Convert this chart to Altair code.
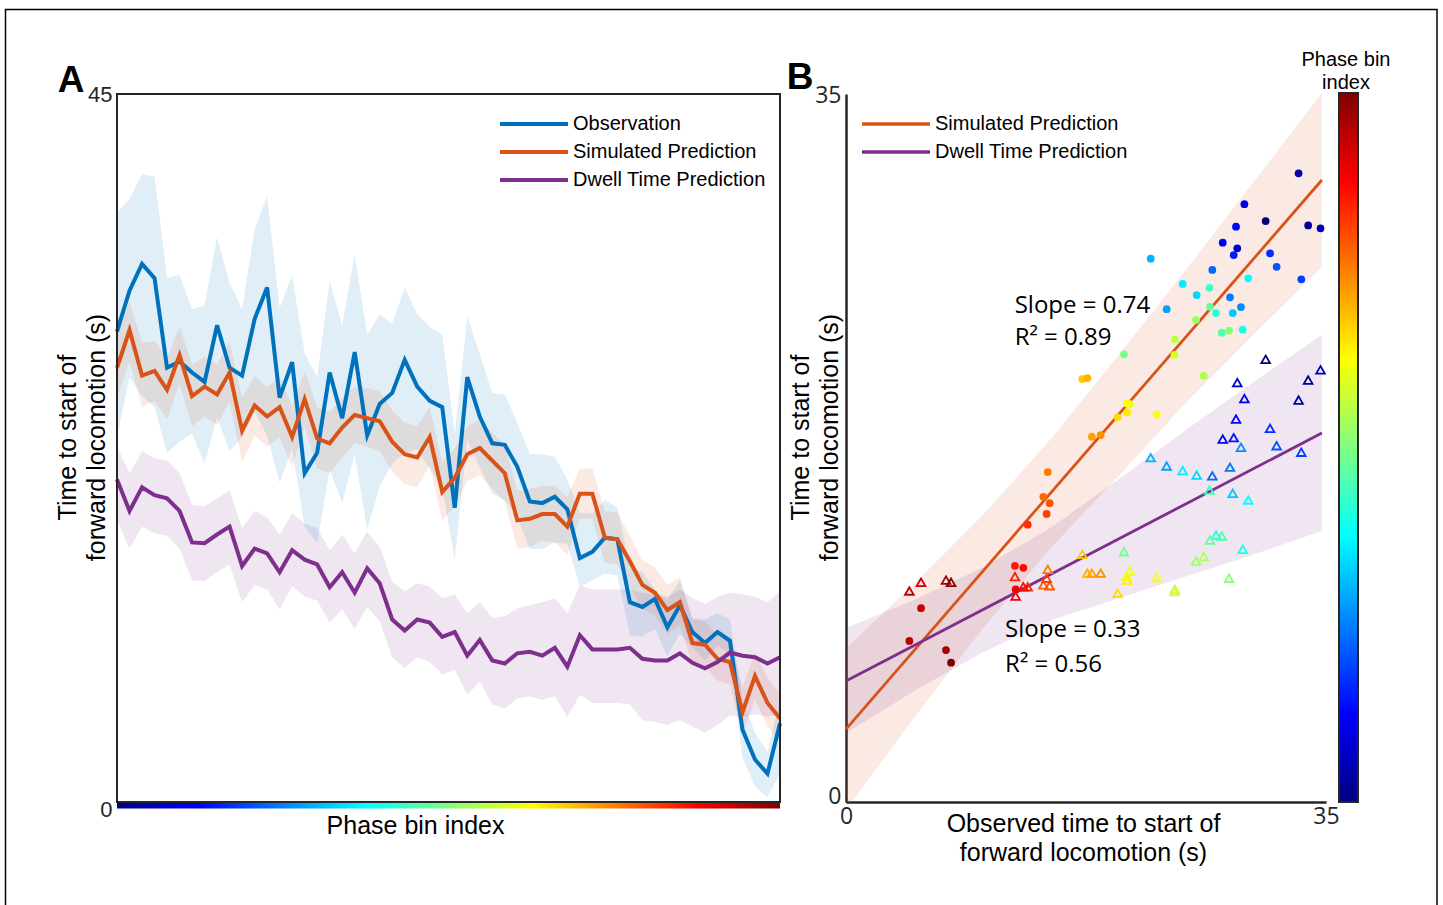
import altair as alt
import pandas as pd

# ---------------- Panel A data (phase bins 1..54) ----------------
phase_bins = list(range(1, 55))
observation = [29.9, 32.5, 34.2, 33.3, 27.6, 28.0, 27.3, 26.7, 30.3, 27.6,
               27.1, 30.7, 32.7, 25.7, 27.95, 20.9, 22.2, 27.3, 24.4, 28.6,
               23.3, 25.3, 26.0, 28.1, 26.4, 25.5, 25.1, 18.7, 27.0, 24.5,
               22.8, 22.7, 21.3, 19.1, 19.0, 19.4, 18.6, 15.5, 15.9, 16.8,
               16.7, 12.7, 12.4, 12.9, 11.1, 12.5, 10.8, 10.1, 10.8, 10.25,
               4.6, 2.7, 1.8, 5.0]
observation_lo = [23.2, 27.0, 25.8, 25.1, 22.2, 22.9, 23.4, 21.5, 24.4, 22.3,
                  23.2, 24.8, 23.3, 20.3, 22.5, 17.5, 16.45, 21.1, 19.0, 22.1,
                  17.3, 20.05, 21.5, 22.2, 22.4, 21.2, 20.0, 15.4, 23.0, 21.3,
                  19.6, 19.2, 18.1, 16.1, 16.1, 16.5, 16.4, 13.7, 14.1, 14.5,
                  14.4, 10.6, 10.5, 11.0, 9.3, 10.7, 9.8, 9.0, 9.9, 9.45,
                  2.8, 1.0, 0.3, 1.8]
observation_hi = [37.5, 38.3, 39.9, 39.75, 33.3, 33.5, 31.3, 31.55, 35.9, 33.0,
                  31.3, 36.4, 38.5, 31.4, 33.5, 28.5, 27.0, 33.1, 30.3, 34.8,
                  29.7, 31.0, 30.4, 32.7, 31.0, 30.2, 29.7, 23.4, 30.85, 28.5,
                  26.0, 25.9, 24.1, 22.1, 22.1, 21.95, 20.5, 18.35, 18.35, 19.2,
                  18.7, 14.96, 14.6, 13.5, 12.8, 14.1, 11.7, 11.6, 12.0, 11.6,
                  6.5, 4.4, 3.2, 6.5]
simulated = [27.6, 30.0, 27.1, 27.4, 26.2, 28.4, 25.8, 26.4, 25.9, 27.3,
             23.6, 25.2, 24.5, 25.1, 23.2, 25.6, 23.1, 22.8, 23.8, 24.6,
             24.4, 24.2, 22.9, 22.1, 21.9, 23.2, 19.7, 20.6, 22.1, 22.5,
             21.7, 20.9, 17.9, 18.0, 18.3, 18.3, 17.5, 19.6, 19.6, 16.8,
             16.7, 15.3, 13.8, 13.3, 12.2, 12.7, 10.1, 10.0, 9.1, 8.9,
             5.7, 8.0, 6.3, 5.3]
simulated_lo = [25.7, 28.0, 25.1, 25.5, 24.3, 26.6, 23.9, 24.5, 24.0, 25.4,
                21.6, 23.3, 22.6, 23.2, 21.3, 23.8, 21.2, 20.9, 21.9, 22.8,
                22.6, 22.3, 21.0, 20.2, 20.0, 21.4, 17.9, 18.8, 20.4, 20.8,
                19.9, 19.1, 16.1, 16.2, 16.6, 16.5, 15.7, 18.0, 18.0, 15.2,
                15.1, 13.7, 12.3, 11.8, 10.7, 11.2, 8.7, 8.6, 7.7, 7.5,
                4.2, 6.5, 4.8, 3.8]
simulated_hi = [29.5, 31.8, 29.2, 29.3, 28.2, 30.2, 27.8, 28.3, 27.8, 29.2,
                25.7, 27.1, 26.4, 27.0, 25.2, 27.4, 25.1, 24.8, 25.7, 26.4,
                26.3, 26.1, 24.9, 24.1, 23.9, 25.1, 21.6, 22.5, 23.9, 24.3,
                23.5, 22.7, 19.8, 19.9, 20.1, 20.1, 19.4, 21.2, 21.2, 18.5,
                18.4, 16.9, 15.4, 14.9, 13.8, 14.3, 11.6, 11.5, 10.6, 10.4,
                7.3, 9.5, 7.9, 6.9]
dwell = [20.5, 18.5, 20.0, 19.5, 19.3, 18.5, 16.5, 16.45, 17.0, 17.5,
         15.0, 16.1, 15.8, 14.6, 16.0, 15.4, 15.1, 13.65, 14.6, 13.3,
         14.85, 13.9, 11.6, 10.9, 11.6, 11.4, 10.5, 10.8, 9.3, 10.3,
         9.0, 8.8, 9.45, 9.55, 9.3, 9.8, 8.6, 10.6, 9.7, 9.7,
         9.7, 9.8, 9.1, 9.0, 9.0, 9.45, 8.85, 8.5, 8.9, 9.5,
         9.3, 9.2, 8.8, 9.2]
dwell_lo = [17.9, 16.1, 17.5, 17.1, 16.9, 16.1, 14.1, 14.05, 14.6, 15.1,
            12.7, 13.8, 13.5, 12.25, 13.7, 13.05, 12.8, 11.4, 12.25, 11.0,
            12.4, 11.5, 9.2, 8.5, 9.2, 8.9, 8.1, 8.4, 6.8, 7.65,
            6.2, 5.95, 6.6, 6.7, 6.5, 6.7, 5.4, 6.8, 6.3, 6.3,
            6.3, 6.2, 5.2, 5.1, 4.9, 5.2, 4.8, 4.4, 4.9, 5.5,
            5.4, 5.6, 5.4, 5.6]
dwell_hi = [22.6, 20.9, 22.3, 21.85, 21.7, 20.9, 18.9, 18.8, 19.3, 19.8,
            17.4, 18.5, 18.1, 17.0, 18.35, 17.7, 17.4, 16.0, 17.0, 15.8,
            17.2, 16.2, 14.0, 13.4, 13.9, 13.7, 12.95, 13.2, 12.0, 12.7,
            11.7, 11.8, 12.3, 12.5, 12.7, 12.95, 12.0, 13.8, 13.5, 13.5,
            13.5, 13.5, 13.3, 13.2, 13.05, 13.5, 12.95, 12.6, 13.05, 13.3,
            13.2, 13.05, 12.7, 13.4]

series_names = ["Observation", "Simulated Prediction", "Dwell Time Prediction"]
series_colors = ["#0072BD", "#D95319", "#7E2F8E"]

# ---------------- Panel B data ----------------
scatter_obs = [33.0, 34.6, 33.7, 30.6, 29.05, 28.44, 27.47, 28.53, 28.27, 30.92,
               22.22, 31.4, 26.71, 33.2, 29.33, 24.55, 26.5, 25.57, 28.0, 28.8,
               23.38, 26.98, 28.2, 26.54, 25.52, 27.4, 27.93, 28.93, 23.98, 20.27,
               23.95, 17.23, 17.6, 26.08, 20.7, 20.47, 20.5, 19.81, 22.66, 17.93,
               18.57, 14.71, 14.39, 14.85, 14.63, 13.25, 12.32, 12.93, 12.37, 5.47,
               4.62, 7.29, 7.66]
scatter_sim = [31.08, 28.36, 28.5, 28.72, 29.55, 28.44, 27.65, 27.37, 27.04, 27.12,
               26.86, 26.46, 26.3, 25.84, 25.89, 25.61, 25.42, 25.06, 24.95, 24.47,
               24.36, 24.17, 24.17, 24.48, 23.83, 23.2, 23.3, 23.35, 22.87, 22.13,
               22.1, 20.91, 20.96, 21.07, 19.67, 19.7, 19.26, 19.02, 19.15, 18.06,
               18.14, 16.31, 15.09, 14.77, 14.24, 13.71, 11.67, 11.58, 10.51, 9.58,
               7.96, 7.51, 6.89]
scatter_dwell = [19.87, 21.36, 20.86, 21.88, 19.94, 18.93, 17.94, 20.73, 18.01, 18.47,
                 17.02, 17.61, 16.12, 17.29, 14.93, 16.38, 15.42, 16.16, 16.55, 17.53,
                 16.61, 13.2, 15.26, 12.95, 11.91, 13.15, 11.06, 12.49, 10.51, 12.37,
                 10.4, 12.24, 11.31, 12.13, 11.42, 11.14, 10.97, 10.32, 11.09, 11.31,
                 11.31, 11.5, 10.73, 10.69, 11.06, 10.64, 11.14, 10.64, 10.18, 10.86,
                 10.43, 10.97, 10.86]
scatter_bin = [3, 4, 2, 1, 6, 8, 7, 5, 9, 10,
               17, 12, 13, 11, 21, 20, 24, 19, 14, 15,
               16, 23, 18, 26, 29, 25, 28, 22, 31, 27,
               32, 37, 38, 30, 33, 34, 35, 36, 34, 39,
               40, 41, 42, 43, 44, 45, 46, 47, 48, 50,
               51, 52, 54]

band_x = [0, 5, 10, 15, 20, 25, 30, 34.7]
sim_band_lo = [-0.4, 4.2, 8.6, 12.6, 16.2, 19.9, 23.3, 26.45]
sim_band_hi = [7.6, 10.8, 14.2, 18.0, 22.2, 26.5, 30.9, 35.05]
dw_band_lo = [3.4, 5.5, 7.4, 9.0, 10.1, 11.2, 12.3, 13.4]
dw_band_hi = [8.6, 10.0, 11.6, 13.6, 16.0, 18.5, 20.9, 23.1]

fit_x = [0, 34.7]
fit_sim = [3.6, 30.75]
fit_dwell = [5.98, 18.24]

annot_x = [12.3, 12.3, 11.6, 11.6]
annot_y = [24.17, 22.59, 8.16, 6.44]
annot_text = ["Slope = 0.74", "R\u00b2 = 0.89", "Slope = 0.33", "R\u00b2 = 0.56"]

jet_domain = [1, 7.625, 20.875, 34.125, 47.375, 54]
jet_colors = ["#000080", "#0000FF", "#00FFFF", "#FFFF00", "#FF0000", "#800000"]
jet_offsets = [0, 0.125, 0.375, 0.625, 0.875, 1]

# ---------------- Build tables ----------------
frames = []
for name, v, lo, hi in zip(series_names,
                           [observation, simulated, dwell],
                           [observation_lo, simulated_lo, dwell_lo],
                           [observation_hi, simulated_hi, dwell_hi]):
    frames.append(pd.DataFrame({"bin": phase_bins, "series": name,
                                "value": v, "lo": lo, "hi": hi}))
dfA = pd.concat(frames, ignore_index=True)

df_scatter = pd.DataFrame({"x": scatter_obs, "sim": scatter_sim,
                           "dwell": scatter_dwell, "idx": scatter_bin})
df_band = pd.DataFrame({"x": band_x, "sim_lo": sim_band_lo, "sim_hi": sim_band_hi,
                        "dw_lo": dw_band_lo, "dw_hi": dw_band_hi})
df_fit = pd.concat([
    pd.DataFrame({"x": fit_x, "y": fit_sim, "series": "Simulated Prediction"}),
    pd.DataFrame({"x": fit_x, "y": fit_dwell, "series": "Dwell Time Prediction"}),
], ignore_index=True)
df_annot = pd.DataFrame({"x": annot_x, "y": annot_y, "text": annot_text})
one = pd.DataFrame({"k": [0]})

SANS = "Liberation Sans"
TICKF = "Liberation Sans Narrow, Liberation Sans"
DARK = "#262626"
LINE_SYMBOL = "M-4,0H4"

# ---------------- Panel A ----------------
xA_scale = alt.Scale(domain=[1, 54], range=[0, 663], nice=False, zero=False)
yA_scale = alt.Scale(domain=[0, 45], nice=False, zero=False)
xA_axis = alt.Axis(orient="bottom", labels=False, ticks=False, domain=False, grid=False,
                   title="Phase bin index", titleFont=SANS, titleFontSize=25,
                   titleFontWeight="normal", titleColor="#000", titleX=298, titleY=31,
                   titleBaseline="alphabetic", titleAlign="center")
yA_axis = alt.Axis(orient="left", values=[0, 45], ticks=False, domain=False, grid=False,
                   labelFont=TICKF, labelFontSize=22, labelColor=DARK, labelPadding=5,
                   labelOffset={"condition": {"test": "datum.value == 0", "value": 7}, "value": 0},
                   title=["Time to start of", "forward locomotion (s)"], titleFont=SANS,
                   titleFontSize=25, titleFontWeight="normal", titleColor="#000",
                   titleAngle=270, titleX=-49.5, titleY=343, titleAlign="center",
                   titleBaseline="middle", titleLineHeight=29)

def xA(field):
    return alt.X(field, scale=xA_scale, axis=xA_axis)

def yA(field):
    return alt.Y(field, scale=yA_scale, axis=yA_axis)

bandsA = [
    alt.Chart(dfA).transform_filter(alt.datum.series == name)
    .mark_area(color=col, opacity=0.12)
    .encode(x=xA("bin:Q"), y=yA("lo:Q"), y2="hi:Q")
    for name, col in zip(series_names, series_colors)
]

legA = alt.Legend(orient="none", legendX=406.5, legendY=19.5, title=None,
                  symbolType=LINE_SYMBOL, symbolSize=289, symbolStrokeWidth=4,
                  labelFont=SANS, labelFontSize=20, labelColor="#000", labelOffset=28.5,
                  labelLimit=400, rowPadding=7, padding=0)

linesA = alt.Chart(dfA).mark_line(strokeWidth=4).encode(
    x=xA("bin:Q"), y=yA("value:Q"),
    color=alt.Color("series:N", scale=alt.Scale(domain=series_names, range=series_colors),
                    legend=legA, sort=series_names),
)

jet_strip = alt.LinearGradient(
    gradient="linear",
    stops=[alt.GradientStop(color=c, offset=o) for c, o in zip(jet_colors, jet_offsets)],
    x1=0, x2=1, y1=0, y2=0)

stripA = alt.Chart(one).mark_rect(fill=jet_strip).encode(
    x=alt.XDatum(1, scale=xA_scale, axis=xA_axis), x2=alt.X2Datum(54),
    y=alt.value(709), y2=alt.value(714.5))

frameA = alt.Chart(one).mark_rect(fillOpacity=0, stroke=DARK, strokeWidth=2).encode(
    x=alt.XDatum(1, scale=xA_scale, axis=xA_axis), x2=alt.X2Datum(54),
    y=alt.YDatum(0, scale=yA_scale, axis=yA_axis), y2=alt.Y2Datum(45))

panelA = alt.layer(*bandsA, stripA, linesA, frameA)

# ---------------- Panel B ----------------
xB_scale = alt.Scale(domain=[0, 35], range=[729, 1209], nice=False, zero=False)
yB_scale = alt.Scale(domain=[0, 35], nice=False, zero=False)
xB_axis = alt.Axis(orient="bottom", values=[0, 35], ticks=False, grid=False,
                   domainColor=DARK, domainWidth=2.5, labelFont="Open Sans",
                   labelFontSize=23, labelColor=DARK, labelPadding=3, labelFlush=False,
                   title=["Observed time to start of", "forward locomotion (s)"],
                   titleFont=SANS, titleFontSize=25, titleFontWeight="normal",
                   titleColor="#000", titleX=966, titleY=29, titleBaseline="alphabetic",
                   titleAlign="center", titleLineHeight=29)
yB_axis = alt.Axis(orient="left", offset=-729, values=[0, 35], ticks=False, grid=False,
                   domainColor=DARK, domainWidth=2.5, labelFont="Open Sans",
                   labelFontSize=23, labelColor=DARK, labelPadding=5,
                   labelOffset={"condition": {"test": "datum.value == 0", "value": -6}, "value": 1},
                   title=["Time to start of", "forward locomotion (s)"], titleFont=SANS,
                   titleFontSize=25, titleFontWeight="normal", titleColor="#000",
                   titleAngle=270, titleX=-46, titleY=343, titleAlign="center",
                   titleBaseline="middle", titleLineHeight=29)

def xB(field):
    return alt.X(field, scale=xB_scale, axis=xB_axis)

def yB(field):
    return alt.Y(field, scale=yB_scale, axis=yB_axis)

bandSimB = alt.Chart(df_band).mark_area(color="#D95319", opacity=0.12, clip=True).encode(
    x=xB("x:Q"), y=yB("sim_lo:Q"), y2="sim_hi:Q")
bandDwB = alt.Chart(df_band).mark_area(color="#7E2F8E", opacity=0.12, clip=True).encode(
    x=xB("x:Q"), y=yB("dw_lo:Q"), y2="dw_hi:Q")

legB = alt.Legend(orient="none", legendX=768.5, legendY=19.5, title=None,
                  symbolType=LINE_SYMBOL, symbolSize=289, symbolStrokeWidth=3.5,
                  labelFont=SANS, labelFontSize=20, labelColor="#000", labelOffset=28.5,
                  labelLimit=400, rowPadding=7, padding=0)

fitB = alt.Chart(df_fit).mark_line(strokeWidth=2.8, clip=True).encode(
    x=xB("x:Q"), y=yB("y:Q"),
    color=alt.Color("series:N",
                    scale=alt.Scale(domain=series_names[1:], range=series_colors[1:]),
                    legend=legB, sort=series_names[1:]))

jet_scale = alt.Scale(domain=jet_domain, range=jet_colors, interpolate="rgb")

circlesB = alt.Chart(df_scatter).mark_circle(size=60, opacity=1).encode(
    x=xB("x:Q"), y=yB("sim:Q"),
    fill=alt.Fill("idx:Q", scale=jet_scale, legend=None))

trianglesB = alt.Chart(df_scatter).mark_point(
    shape="triangle-up", filled=False, size=75, strokeWidth=1.8, opacity=1).encode(
    x=xB("x:Q"), y=yB("dwell:Q"),
    stroke=alt.Stroke("idx:Q", scale=jet_scale, legend=None))

annotB = alt.Chart(df_annot).mark_text(
    align="left", baseline="alphabetic", font="Open Sans", fontSize=24, color="#000").encode(
    x=xB("x:Q"), y=yB("y:Q"), text="text:N")

panelB = alt.layer(bandSimB, bandDwB, fitB, circlesB, trianglesB, annotB)

# ---------------- Colour bar (phase bin index) ----------------
jet_bar = alt.LinearGradient(
    gradient="linear",
    stops=[alt.GradientStop(color=c, offset=o) for c, o in zip(jet_colors, jet_offsets)],
    x1=0, x2=0, y1=1, y2=0)
colorbar = alt.Chart(one).mark_rect(fill=jet_bar, stroke=DARK, strokeWidth=2).encode(
    x=alt.value(1222), x2=alt.value(1241), y=alt.value(-1), y2=alt.value(708))
colorbar_title = alt.Chart(one).mark_text(
    text=["Phase bin", "index"], font=SANS, fontSize=20, lineHeight=23,
    align="center", baseline="middle", color="#000").encode(
    x=alt.value(1229), y=alt.value(-34))

# ---------------- Decorations ----------------
labelA = alt.Chart(one).mark_text(text="A", font=SANS, fontSize=37, fontWeight="bold",
                                  align="center", baseline="alphabetic", color="#000").encode(
    x=alt.value(-46), y=alt.value(-2))
labelB = alt.Chart(one).mark_text(text="B", font=SANS, fontSize=37, fontWeight="bold",
                                  align="center", baseline="alphabetic", color="#000").encode(
    x=alt.value(683), y=alt.value(-5))
outer = alt.Chart(one).mark_rect(fillOpacity=0, stroke="#000", strokeWidth=1.5).encode(
    x=alt.value(-111.5), x2=alt.value(1320), y=alt.value(-84.5), y2=alt.value(830))

chart = alt.layer(panelA, panelB, colorbar, colorbar_title, labelA, labelB, outer).resolve_scale(
    x="independent", y="independent", color="independent"
).properties(
    width=1209, height=708,
    padding={"left": 117, "top": 94, "right": 117, "bottom": 103},
    autosize=alt.AutoSizeParams(type="none"),
).configure_view(strokeWidth=0)

chart.save("out.html", embed_options={"renderer": "svg", "actions": False})
